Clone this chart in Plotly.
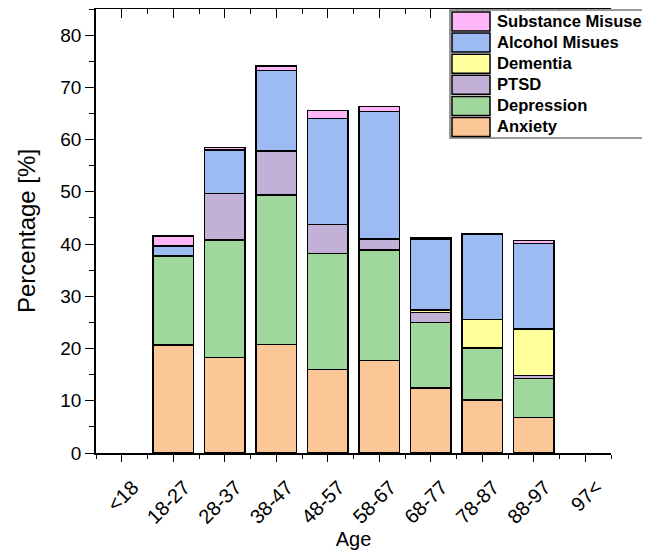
import plotly.graph_objects as go

categories = ["<18", "18-27", "28-37", "38-47", "48-57", "58-67", "68-77", "78-87", "88-97", "97<"]
anxiety    = [None, 20.7, 18.3, 20.8, 16.0, 17.7, 12.4, 10.1, 6.8, None]
depression = [None, 17.0, 22.5, 28.6, 22.2, 21.2, 12.6, 9.9, 7.5, None]
ptsd       = [None, 0.0, 8.9, 8.4, 5.5, 2.1, 1.9, 0.2, 0.5, None]
dementia   = [None, 0.0, 0.0, 0.0, 0.0, 0.0, 0.5, 5.4, 8.9, None]
alcohol    = [None, 1.9, 8.3, 15.4, 20.3, 24.4, 13.5, 16.2, 16.4, None]
substance  = [None, 1.9, 0.5, 0.9, 1.6, 0.9, 0.3, 0.1, 0.6, None]

series = [
    ("Anxiety", anxiety, "#FCC797"),
    ("Depression", depression, "#9FD79D"),
    ("PTSD", ptsd, "#C2B0D6"),
    ("Dementia", dementia, "#FFFF9C"),
    ("Alcohol Misues", alcohol, "#9BBBF2"),
    ("Substance Misuse", substance, "#FFB6F8"),
]

xpos = list(range(len(categories)))

fig = go.Figure()
for name, vals, col in series:
    fig.add_trace(go.Bar(
        x=xpos, y=vals, name=name, width=0.78, showlegend=False,
        marker=dict(color=col, line=dict(color="black", width=1.5)),
    ))

# page is rendered with an 8px body margin; compensate in figure size/margins
W, H = 642, 546
ML, MR, MT, MB = 88, 39, 1, 101
PW, PH = W - ML - MR, H - MT - MB

def px2paper(xp, yp):
    # xp, yp are page pixel coordinates (including 8px body offset)
    return (xp - 8 - ML) / PW, (H - MB - (yp - 8)) / PH

font = "Liberation Sans, Arial, sans-serif"

# manual legend (Origin-style big swatches)
shapes = []
annotations = []
bx0, by0 = px2paper(450, 138)
bx1, by1 = px2paper(643, 10)
shapes.append(dict(type="rect", xref="paper", yref="paper", x0=bx0, x1=bx1, y0=by0, y1=by1,
                   fillcolor="white", line=dict(color="#777777", width=1.5), layer="above"))
for i, (name, vals, col) in enumerate(reversed(series)):
    top = 12 + 21.1 * i
    sx0, sy1 = px2paper(452, top)
    sx1, sy0 = px2paper(490, top + 19)
    shapes.append(dict(type="rect", xref="paper", yref="paper", x0=sx0, x1=sx1, y0=sy0, y1=sy1,
                       fillcolor=col, line=dict(color="black", width=1.5), layer="above"))
    tx, ty = px2paper(495, top + 9.5)
    annotations.append(dict(xref="paper", yref="paper", x=tx, y=ty, xanchor="left", yanchor="middle",
                            text="<b>%s</b>" % name, showarrow=False,
                            font=dict(family=font, size=16.6, color="black")))

fig.update_layout(
    width=W, height=H,
    barmode="stack",
    plot_bgcolor="white", paper_bgcolor="white",
    margin=dict(l=ML, r=MR, t=MT, b=MB, autoexpand=False),
    font=dict(family=font, color="black", size=19),
    showlegend=False,
    shapes=shapes, annotations=annotations,
    xaxis=dict(
        range=[-0.5, 9.5], tickmode="array", tickvals=xpos, ticktext=categories,
        tickangle=-45, ticks="outside", ticklen=7, tickwidth=1.2, tickcolor="black",
        ticklabelshift=11, ticklabelstandoff=6,
        showline=True, linecolor="black", linewidth=1.5, mirror=False,
        showgrid=False, zeroline=False, automargin=False,
        minor=dict(dtick=0.5, tick0=0, ticks="outside", ticklen=4, tickcolor="black", tickwidth=1.2),
        title=dict(text="Age", font=dict(size=20), standoff=4),
        tickfont=dict(size=20),
    ),
    yaxis=dict(
        range=[0, 85], dtick=10, tick0=0,
        ticks="outside", ticklen=9, tickwidth=1.2, tickcolor="black",
        showline=True, linecolor="black", linewidth=1.5, mirror=False,
        showgrid=False, zeroline=False, automargin=False,
        minor=dict(dtick=5, ticks="outside", ticklen=5, tickcolor="black", tickwidth=1.2),
        title=dict(text="Percentage [%]", font=dict(size=24), standoff=18),
        tickfont=dict(size=19),
    ),
    xaxis2=dict(
        overlaying="x", side="top", range=[-0.5, 9.5], tickmode="array", tickvals=xpos,
        showticklabels=False, ticks="inside", ticklen=9, tickwidth=1.2, tickcolor="black",
        minor=dict(dtick=0.5, tick0=0, ticks="inside", ticklen=5, tickcolor="black", tickwidth=1.2),
        showgrid=False, zeroline=False, showline=True, linecolor="black", linewidth=1.5,
        automargin=False,
    ),
)

# invisible helper trace so the top tick axis is drawn
fig.add_trace(go.Scatter(x=[0], y=[0], xaxis="x2", yaxis="y", mode="markers",
                         marker=dict(opacity=0), showlegend=False, hoverinfo="skip"))

fig.write_html("out.html")
